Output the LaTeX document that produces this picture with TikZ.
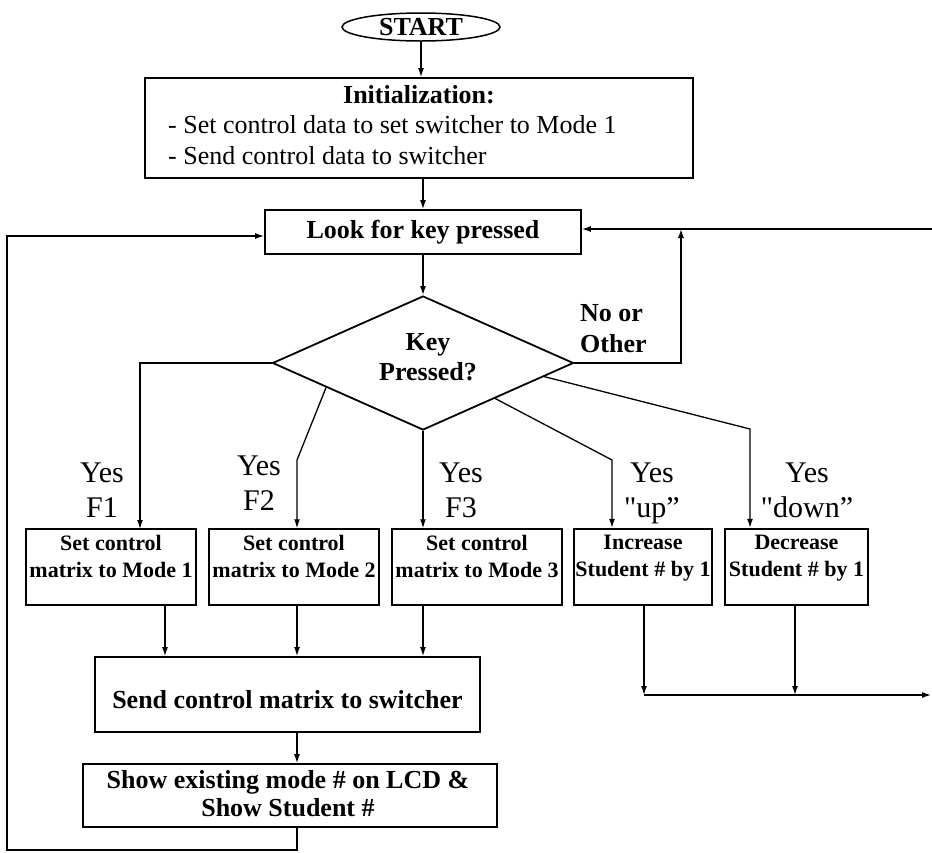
\documentclass[tikz,border=0pt]{standalone}
\usepackage{fontspec}
\setmainfont{Liberation Serif}[Ligatures=TeXOff]
\usetikzlibrary{shapes.geometric,arrows.meta,calc}
\begin{document}
\begin{tikzpicture}[x=1pt,y=-1pt,
  box/.style={draw, line width=1.8pt, inner sep=0pt},
  rowbox/.style={draw, line width=1.5pt, inner sep=0pt, minimum height=76pt},
  thickbox/.style={draw, line width=2.4pt, inner sep=0pt, minimum height=76pt},
  txt/.style={inner sep=0pt},
  bigbold/.style={txt, font=\fontsize{26}{30}\selectfont\bfseries},
  bigreg/.style={txt, font=\fontsize{26}{30.5}\selectfont},
  rowtxt/.style={txt, anchor=north, align=center, font=\fontsize{22}{27}\selectfont\bfseries},
  yeslbl/.style={txt, anchor=north, align=center, font=\fontsize{30}{35}\selectfont},
  conn/.style={line width=1.3pt},
  arr/.style={conn, -{Latex[length=9pt,width=6pt]}}
]
\useasboundingbox (0,0) rectangle (932,852);

% START
\node[draw, ellipse, line width=1.5pt, minimum width=158pt, minimum height=28pt, inner sep=0pt,
      font=\fontsize{26}{30}\selectfont\bfseries] (start) at (421,27) {START};

% Initialization box
\node[box, minimum width=548pt, minimum height=100pt] (init) at (419,128) {};
\node[bigbold, anchor=base] (initT) at (419,103) {Initialization:};
\node[bigreg, anchor=base west] (initA) at (168,133) {- Set control data to set switcher to Mode 1};
\node[bigreg, anchor=base west] (initB) at (168,164) {- Send control data to switcher};

% Look for key pressed
\node[box, minimum width=316pt, minimum height=44pt] (look) at (423,232) {};
\node[bigbold, anchor=base] (lookT) at (423,238) {Look for key pressed};

% Decision
\node[draw, diamond, aspect=2.2, line width=1.8pt, minimum width=301pt, minimum height=134pt, inner sep=0pt] (dia) at (423,363) {};
\node[bigbold, anchor=north, align=center] (diaT) at (428,333) {Key\\Pressed?};
\node[txt, anchor=north west, align=left, font=\fontsize{26}{31}\selectfont\bfseries] (noT) at (580,304) {No or\\Other};

% Row of boxes
\node[rowbox, minimum width=170pt] (b1) at (111,567) {};
\node[rowbox, minimum width=170pt] (b2) at (294,567) {};
\node[rowbox, minimum width=170pt] (b3) at (477,567) {};
\node[thickbox, minimum width=138pt] (b4) at (643,567) {};
\node[thickbox, minimum width=143pt] (b5) at (796.5,567) {};
\node[rowtxt] (b1T) at (111,535) {Set control\\matrix to Mode 1};
\node[rowtxt] (b2T) at (294,535) {Set control\\matrix to Mode 2};
\node[rowtxt] (b3T) at (477,535) {Set control\\matrix to Mode 3};
\node[rowtxt] (b4T) at (643,535) {Increase\\Student \# by 1};
\node[rowtxt] (b5T) at (796.5,535) {Decrease\\Student \# by 1};

% Yes labels
\node[yeslbl] (y1) at (102,463) {Yes\\F1};
\node[yeslbl] (y2) at (259,456) {Yes\\F2};
\node[yeslbl] (y3) at (461,463) {Yes\\F3};
\node[yeslbl] (y4) at (652,463) {Yes\\"up”};
\node[yeslbl] (y5) at (807,463) {Yes\\"down”};

% Send and show boxes
\node[box, minimum width=385pt, minimum height=75pt] (send) at (287.5,694.5) {};
\node[bigbold, anchor=base] (sendT) at (287.5,708) {Send control matrix to switcher};
\node[box, minimum width=414pt, minimum height=63pt] (show) at (290,795.5) {};
\node[txt, anchor=north, align=center, font=\fontsize{26}{28}\selectfont\bfseries] (showT) at (288,770) {Show existing mode \# on LCD \&\\Show Student \#};

% helper coordinates
\coordinate (rin) at (932,229);
\coordinate (nojoin) at (681,229);
\coordinate (lc) at (7,236);
\coordinate (lb) at (7,850);
\coordinate (f1in) at (140,529);
\coordinate (f2k) at (297,460);
\coordinate (upk) at (612,460);
\coordinate (dnk) at (750,429);
\coordinate (c165) at (165,0);
\coordinate (c297) at (297,0);
\coordinate (c423) at (423,0);
\coordinate (m4) at (644,695);
\coordinate (m5) at (795,695);
\coordinate (mend) at (931,695);

% connectors
\draw[arr] (start.south) -- (start.south |- init.north);
\draw[arr] (look.north |- init.south) -- (look.north);
\draw[arr] (look.south) -- (dia.north);
\draw[arr] (rin) -- (rin -| look.east);
\draw[arr] (dia.east) -| (nojoin);
\draw[arr] (dia.west) -| (f1in);
\draw[arr] ($(dia.west)!0.36!(dia.south)$) -- (f2k) -- (f2k |- b2.north);
\draw[arr] (dia.south) -- (dia.south |- b3.north);
\draw[arr] ($(dia.south)!0.477!(dia.east)$) -- (upk) -- (upk |- b4.north);
\draw[arr] ($(dia.south)!0.8!(dia.east)$) -- (dnk) -- (dnk |- b5.north);

\draw[arr] (b1.south -| c165) -- (send.north -| c165);
\draw[arr] (b2.south -| c297) -- (send.north -| c297);
\draw[arr] (b3.south -| c423) -- (send.north -| c423);
\draw[arr] (send.south -| c297) -- (show.north -| c297);
\draw[arr] (show.south -| c297) -- (c297 |- lb) -- (lb) -- (lc) -- (lc -| look.west);

\draw[arr] (b4.south -| m4) -- (m4);
\draw[arr] (b5.south -| m5) -- (m5);
\draw[arr] (m4) -- (mend);
\end{tikzpicture}
\end{document}
